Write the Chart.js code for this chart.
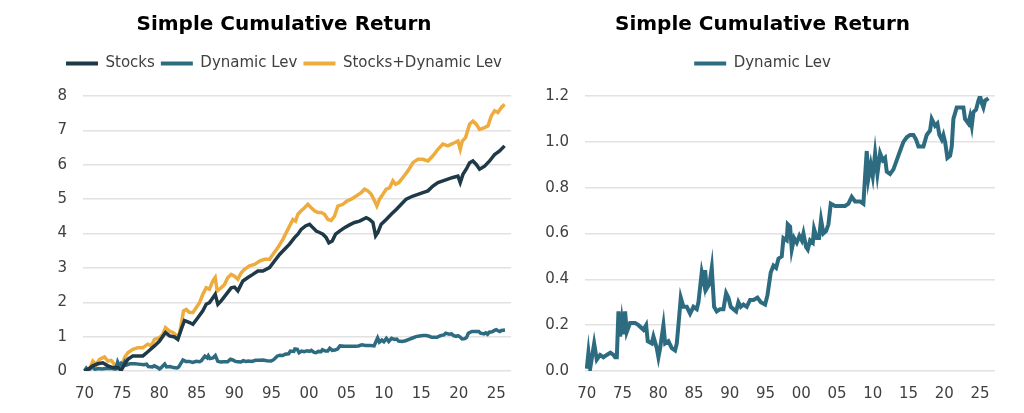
<!DOCTYPE html>
<html><head><meta charset="utf-8">
<script src="https://cdn.jsdelivr.net/npm/chart.js@4.4.1/dist/chart.umd.min.js"></script>
<style>
html,body{margin:0;padding:0;background:#fff;width:1024px;height:413px;overflow:hidden}
.box{position:absolute;top:0;height:413px}
#b1{left:56px;width:464px}
#b2{left:530px;width:484px}
</style></head><body>
<div class="box" id="b1"><canvas id="c1"></canvas></div>
<div class="box" id="b2"><canvas id="c2"></canvas></div>
<script>
const titleText = 'Simple Cumulative Return';
const seriesNames = ['Stocks', 'Dynamic Lev', 'Stocks+Dynamic Lev'];
const tickYears = [1970,1975,1980,1985,1990,1995,2000,2005,2010,2015,2020,2025];

const stocksYears = [1970.0,1970.67,1971.11,1971.78,1972.45,1973.12,1973.79,1974.45,1974.90,1975.35,
1975.79,1976.46,1977.13,1977.80,1978.46,1979.35,1980.02,1980.82,1981.36,1982.03,
1982.47,1982.92,1983.36,1984.03,1984.48,1985.14,1985.81,1986.26,1986.70,1987.15,
1987.46,1987.82,1988.26,1988.93,1989.60,1990.04,1990.49,1991.16,1991.83,1992.49,
1993.16,1993.83,1994.72,1995.39,1996.06,1996.73,1997.39,1998.06,1998.51,1998.95,
1999.53,2000.07,2000.51,2000.96,2001.40,2001.85,2002.29,2002.65,2003.10,2003.54,
2004.08,2004.74,2005.41,2006.08,2006.75,2007.64,2008.08,2008.53,2008.89,2009.20,
2009.64,2010.31,2010.98,2011.65,2012.32,2012.98,2013.88,2014.54,2015.21,2015.88,
2016.55,2017.22,2017.88,2018.55,2019.22,2019.89,2020.20,2020.56,2021.00,2021.45,
2021.89,2022.34,2022.78,2023.45,2024.12,2024.79,2025.46,2026.12];
const stocksValues = [0,0.08,0.15,0.21,0.24,0.15,0.10,0.10,0.02,0.19,
0.34,0.44,0.44,0.44,0.56,0.73,0.87,1.12,1.02,0.99,
0.92,1.21,1.47,1.41,1.36,1.55,1.75,1.94,1.99,2.13,
2.23,1.94,2.04,2.23,2.42,2.44,2.33,2.62,2.72,2.81,
2.91,2.91,3.01,3.20,3.39,3.54,3.69,3.88,3.98,4.12,
4.22,4.27,4.17,4.07,4.03,3.98,3.88,3.73,3.78,3.98,
4.07,4.17,4.25,4.32,4.36,4.46,4.41,4.32,3.93,4.03,
4.27,4.41,4.56,4.70,4.85,5.00,5.09,5.14,5.19,5.24,
5.38,5.48,5.53,5.58,5.63,5.67,5.48,5.72,5.87,6.06,
6.11,6.01,5.87,5.96,6.11,6.30,6.40,6.55];

const comboYears = [1970.0,1970.67,1971.11,1971.56,1972.00,1972.67,1973.12,1973.56,1974.01,1974.45,
1974.90,1975.35,1975.79,1976.46,1977.13,1977.80,1978.46,1978.91,1979.35,1980.02,
1980.47,1980.82,1981.36,1981.80,1982.34,1982.69,1983.23,1983.59,1984.03,1984.48,
1984.92,1985.37,1985.81,1986.26,1986.70,1987.15,1987.46,1987.73,1988.26,1988.71,
1989.15,1989.60,1990.04,1990.49,1990.94,1991.38,1992.05,1992.72,1993.39,1994.05,
1994.72,1995.17,1995.84,1996.50,1997.17,1997.84,1998.20,1998.51,1998.95,1999.40,
1999.84,2000.29,2000.73,2001.18,2001.63,2002.07,2002.52,2002.96,2003.41,2003.85,
2004.52,2004.97,2005.63,2006.30,2006.97,2007.42,2007.86,2008.31,2008.75,2009.06,
2009.42,2009.87,2010.31,2010.76,2011.20,2011.56,2012.00,2012.54,2013.21,2013.88,
2014.54,2015.21,2015.88,2016.55,2017.22,2017.88,2018.55,2019.00,2019.44,2019.89,
2020.20,2020.47,2020.91,2021.45,2021.89,2022.34,2022.78,2023.45,2023.90,2024.34,
2024.79,2025.23,2025.68,2026.12];
const comboValues = [0,0.05,0.29,0.19,0.34,0.41,0.29,0.31,0.19,0.12,
0.02,0.39,0.53,0.63,0.68,0.68,0.78,0.73,0.92,0.97,
1.07,1.26,1.16,1.12,1.02,1.07,1.75,1.79,1.70,1.70,
1.84,1.99,2.23,2.42,2.38,2.62,2.72,2.33,2.42,2.52,
2.72,2.81,2.76,2.67,2.86,2.96,3.06,3.10,3.20,3.25,
3.25,3.39,3.59,3.83,4.12,4.41,4.36,4.56,4.66,4.75,
4.85,4.75,4.66,4.61,4.61,4.56,4.41,4.38,4.51,4.80,
4.85,4.93,5.00,5.09,5.19,5.29,5.24,5.14,4.95,4.80,
5.00,5.14,5.29,5.33,5.53,5.43,5.48,5.63,5.82,6.06,
6.16,6.16,6.11,6.26,6.45,6.60,6.55,6.60,6.64,6.69,
6.45,6.69,6.79,7.18,7.27,7.18,7.03,7.08,7.13,7.42,
7.57,7.52,7.66,7.76];

const dynYears = [1970.00,1970.23,1970.47,1971.03,1971.40,1971.86,1972.33,1972.80,1973.30,1973.73,
1973.96,1974.20,1974.43,1974.66,1974.90,1975.13,1975.36,1975.59,1976.06,1976.76,
1977.23,1977.93,1978.30,1978.53,1979.09,1979.32,1979.79,1980.02,1980.26,1980.72,
1980.96,1981.42,1981.89,1982.35,1982.59,1982.82,1983.15,1983.52,1983.99,1984.45,
1984.92,1985.38,1985.62,1986.08,1986.41,1986.55,1986.78,1987.16,1987.48,1987.81,
1988.18,1988.65,1989.11,1989.49,1989.81,1990.14,1990.51,1990.89,1991.21,1991.54,
1991.91,1992.38,1992.84,1993.31,1993.87,1994.34,1994.94,1995.27,1995.73,1996.11,
1996.48,1996.81,1997.27,1997.51,1997.97,1998.11,1998.44,1998.67,1999.00,1999.37,
1999.74,2000.07,2000.30,2000.68,2000.91,2001.24,2001.61,2001.79,2002.17,2002.49,
2002.77,2003.10,2003.47,2003.80,2004.13,2004.73,2005.43,2006.13,2006.60,2007.06,
2007.53,2008.23,2008.69,2008.93,2009.16,2009.39,2009.72,2010.00,2010.33,2010.65,
2011.03,2011.40,2011.72,2011.96,2012.42,2012.89,2013.36,2013.82,2014.29,2014.76,
2015.22,2015.69,2016.06,2016.39,2017.09,2017.55,2018.02,2018.25,2018.72,2019.04,
2019.32,2019.65,2019.88,2020.12,2020.44,2020.82,2021.05,2021.28,2021.75,2022.21,
2022.68,2022.91,2023.38,2023.61,2023.85,2024.08,2024.45,2024.78,2025.01,2025.24,
2025.48,2025.71,2026.18];
const dynValues = [0.01,0.08,0.01,0.12,0.05,0.07,0.06,0.07,0.08,0.07,
0.06,0.06,0.26,0.15,0.22,0.16,0.26,0.17,0.21,0.21,
0.20,0.18,0.20,0.13,0.12,0.15,0.10,0.06,0.10,0.20,
0.12,0.13,0.10,0.09,0.12,0.20,0.32,0.28,0.28,0.25,
0.28,0.27,0.30,0.43,0.38,0.44,0.36,0.38,0.45,0.28,
0.26,0.27,0.27,0.34,0.32,0.28,0.27,0.26,0.30,0.28,
0.29,0.28,0.31,0.31,0.32,0.30,0.29,0.33,0.43,0.46,
0.45,0.49,0.50,0.58,0.57,0.64,0.63,0.53,0.58,0.56,
0.59,0.57,0.60,0.54,0.53,0.57,0.56,0.62,0.58,0.58,
0.66,0.60,0.61,0.64,0.73,0.72,0.72,0.72,0.73,0.76,
0.74,0.74,0.73,0.85,0.96,0.84,0.90,0.85,0.95,0.86,
0.95,0.92,0.93,0.87,0.86,0.88,0.92,0.96,1.00,1.02,
1.03,1.03,1.01,0.98,0.98,1.03,1.05,1.10,1.07,1.08,
1.03,1.01,1.03,1.00,0.93,0.94,0.98,1.10,1.15,1.15,
1.15,1.10,1.08,1.11,1.07,1.13,1.14,1.18,1.20,1.17,
1.15,1.18,1.19];

const COLORS = {stocks:'#1e3947', dyn:'#2d6c80', combo:'#eeab3e'};
const FONT = "'DejaVu Sans', Verdana, sans-serif";
Chart.defaults.font.family = FONT;
Chart.defaults.color = '#404040';

function pts(xs, ys){ return xs.map((x,i)=>({x:x, y:ys[i]})); }
function ds(label, xs, ys, color, w){
  return {label, data:pts(xs,ys), borderColor:color, backgroundColor:color,
    borderWidth:w, pointRadius:0, tension:0, fill:false};
}

const legendGap = {
  id:'legendGap',
  beforeInit(chart){
    const fit = chart.legend.fit;
    chart.legend.fit = function(){ fit.bind(chart.legend)(); this.height += chart.options.plugins.legendGap.extra; };
  }
};

function options(c){
  return {
    responsive:true, maintainAspectRatio:false, animation:false,
    layout:{padding:{left:0,right:c.padR,top:0,bottom:-4}},
    plugins:{
      legendGap:{extra:c.extra},
      title:{display:true,text:titleText,color:'#000',font:{size:20,weight:'bold'},padding:{top:13,bottom:13}},
      legend:{display:true,position:'top',
        labels:{boxWidth:32,boxHeight:4,padding:6,color:'#404040',font:{size:15},
          generateLabels(chart){
            const items = Chart.defaults.plugins.legend.labels.generateLabels(chart);
            items.forEach(it=>{it.lineWidth=0; it.fillStyle=it.strokeStyle;});
            return items;
          }}},
      tooltip:{enabled:false}
    },
    scales:{
      x:{type:'linear',min:c.xMin,max:c.xMax,grid:{display:false,drawTicks:false},border:{display:false},
        afterBuildTicks:s=>{s.ticks=tickYears.map(v=>({value:v}));},
        ticks:{padding:14,font:{size:15},color:'#404040',maxRotation:0,autoSkip:false,
          callback:v=>String(Math.round(v)%100).padStart(2,'0')}},
      y:{type:'linear',min:c.yMin,max:c.yMax,
        afterFit:s=>{s.width=c.yW;},
        grid:{color:'#e2e2e2',lineWidth:1.5,drawTicks:false},border:{display:false},
        ticks:{stepSize:c.step,padding:16,font:{size:15},color:'#404040',
          callback:v=>Number(v).toFixed(c.dec)}}
    }
  };
}

new Chart(document.getElementById('c1'), {
  type:'line',
  data:{datasets:[
    ds(seriesNames[0], stocksYears, stocksValues, COLORS.stocks, 3.5),
    ds(seriesNames[1], dynYears, dynValues, COLORS.dyn, 3.5),
    ds(seriesNames[2], comboYears, comboValues, COLORS.combo, 3.5)
  ]},
  options:options({padR:8,xMin:1969.8,xMax:2027,yMin:0,yMax:8,step:1,dec:0,yW:27,extra:15}),
  plugins:[legendGap]
});

new Chart(document.getElementById('c2'), {
  type:'line',
  data:{datasets:[
    ds(seriesNames[1], dynYears, dynValues, COLORS.dyn, 4)
  ]},
  options:options({padR:19,xMin:1969.75,xMax:2027.1,yMin:0,yMax:1.2,step:0.2,dec:1,yW:55,extra:15}),
  plugins:[legendGap]
});
</script>
</body></html>
